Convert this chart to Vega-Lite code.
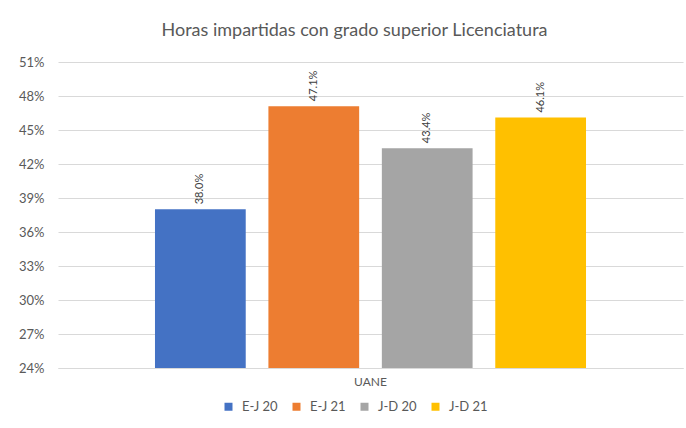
{
  "$schema": "https://vega.github.io/schema/vega-lite/v6.json",
  "width": 625,
  "height": 306,
  "autosize": {"type": "none"},
  "padding": {"left": 58, "top": 62, "right": 3, "bottom": 60},
  "background": "white",
  "title": {
    "text": "Horas impartidas con grado superior Licenciatura",
    "font": "Lato",
    "fontSize": 18,
    "fontWeight": "normal",
    "color": "#595959",
    "anchor": "middle",
    "offset": 16,
    "dx": -16
  },
  "data": {
    "values": [
      {"grupo": "UANE", "serie": "E-J 20", "valor": 0.380},
      {"grupo": "UANE", "serie": "E-J 21", "valor": 0.471},
      {"grupo": "UANE", "serie": "J-D 20", "valor": 0.434},
      {"grupo": "UANE", "serie": "J-D 21", "valor": 0.461}
    ]
  },
  "encoding": {
    "x": {
      "field": "grupo",
      "type": "nominal",
      "title": null,
      "scale": {"paddingInner": 0, "paddingOuter": 0.225},
      "axis": {
        "labelAngle": 0,
        "labelFont": "Lato",
        "labelFontSize": 12,
        "labelColor": "#595959",
        "labelPadding": 8,
        "ticks": false,
        "domainColor": "#d9d9d9",
        "domainWidth": 1
      }
    },
    "xOffset": {
      "field": "serie",
      "type": "nominal",
      "scale": {"paddingInner": 0.2, "paddingOuter": 0}
    },
    "y": {
      "field": "valor",
      "type": "quantitative",
      "title": null,
      "scale": {"domain": [0.24, 0.51], "zero": false, "nice": false},
      "axis": {
        "values": [0.24, 0.27, 0.30, 0.33, 0.36, 0.39, 0.42, 0.45, 0.48, 0.51],
        "format": ".0%",
        "labelFont": "Lato",
        "labelFontSize": 13,
        "labelColor": "#595959",
        "labelPadding": 14,
        "ticks": false,
        "domain": false,
        "gridColor": "#d9d9d9",
        "gridWidth": 1
      }
    }
  },
  "layer": [
    {
      "mark": {"type": "bar"},
      "encoding": {
        "y2": {"datum": 0.24},
        "color": {
          "field": "serie",
          "type": "nominal",
          "title": null,
          "scale": {
            "domain": ["E-J 20", "E-J 21", "J-D 20", "J-D 21"],
            "range": ["#4472C4", "#ED7D31", "#A5A5A5", "#FFC000"]
          },
          "legend": {
            "orient": "none",
            "legendX": 164,
            "legendY": 338,
            "direction": "horizontal",
            "symbolType": "square",
            "symbolSize": 64,
            "symbolStrokeWidth": 0,
            "labelFont": "Lato",
            "labelFontSize": 13,
            "labelColor": "#595959",
            "labelOffset": 7,
            "columnPadding": 12
          }
        }
      }
    },
    {
      "mark": {
        "type": "text",
        "angle": 270,
        "align": "left",
        "baseline": "middle",
        "dx": 5,
        "font": "Lato",
        "fontSize": 11,
        "color": "#404040"
      },
      "encoding": {
        "text": {"field": "valor", "type": "quantitative", "format": ".1%"}
      }
    }
  ],
  "config": {"view": {"stroke": null}}
}
